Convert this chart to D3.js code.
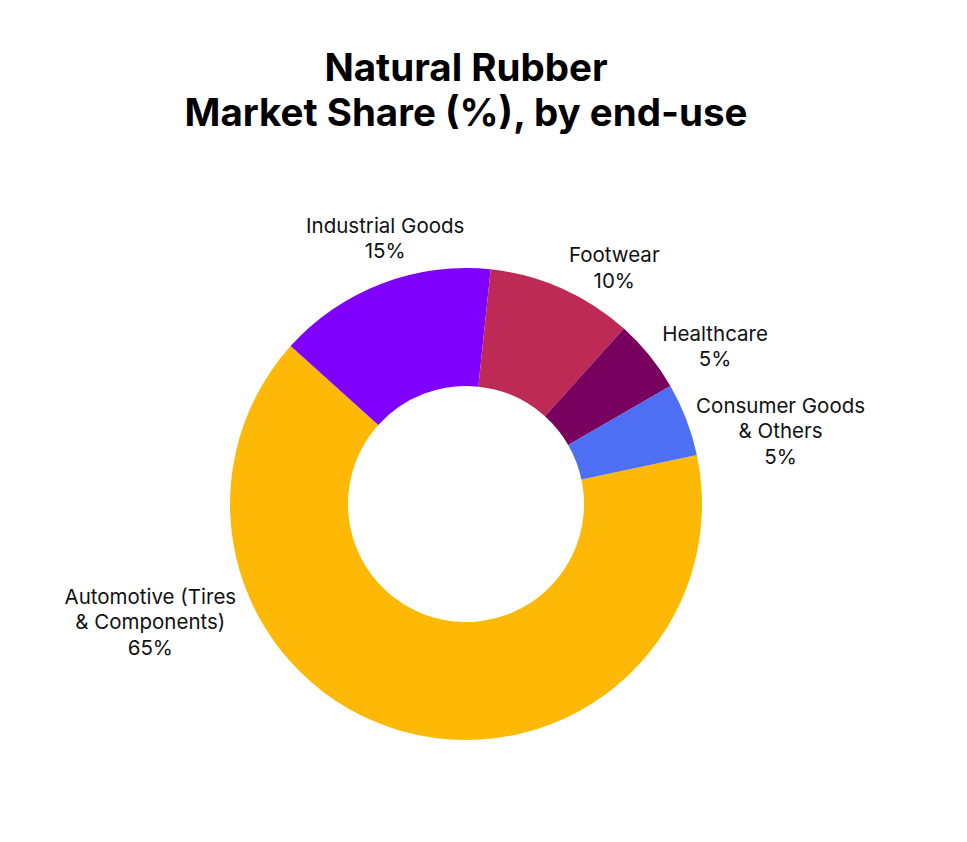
<!DOCTYPE html>
<meta charset="utf-8">
<script src="https://d3js.org/d3.v7.min.js"></script>
<style>
  body { margin: 0; background: #fff; }
  text { font-family: Inter, "Noto Sans", sans-serif; }
</style>
<div id="chart"></div>
<script>
  // data
  var segments = ["Automotive (Tires & Components)", "Industrial Goods", "Footwear", "Healthcare", "Consumer Goods & Others"];
  var shares = [65, 15, 10, 5, 5];
  var labelLines = [
    ["Automotive (Tires", "& Components)", "65%"],
    ["Industrial Goods", "15%"],
    ["Footwear", "10%"],
    ["Healthcare", "5%"],
    ["Consumer Goods", "& Others", "5%"]
  ];
  var colors = ["#FDB905", "#7F00FF", "#BE2A56", "#78005F", "#4E6EF3"];

  // label placement (polar, degrees clockwise from 12 o'clock, px from centre)
  var labelAngle = [-110.5, -16.9, 32.1, 57.6, 76.9];
  var labelDist = [337, 278, 279, 295, 323];

  var width = 967, height = 842;
  var cx = 466, cy = 504, R = 236, r0 = 118;
  var lineH = 25.5, capH = 14.8;

  var svg = d3.select("#chart").append("svg")
      .attr("width", width)
      .attr("height", height);

  // title
  svg.append("text")
      .attr("x", 466).attr("y", 81)
      .attr("text-anchor", "middle")
      .style("font-size", "38.5px").style("font-weight", "700")
      .text("Natural Rubber");
  svg.append("text")
      .attr("x", 466).attr("y", 126)
      .attr("text-anchor", "middle")
      .style("font-size", "38.5px").style("font-weight", "700")
      .text("Market Share (%), by end-use");

  var start = 78 * Math.PI / 180;
  var pie = d3.pie().sort(null).startAngle(start).endAngle(start + 2 * Math.PI);
  var arc = d3.arc().innerRadius(r0).outerRadius(R);

  var g = svg.append("g").attr("transform", "translate(" + cx + "," + cy + ")");

  g.selectAll("path")
      .data(pie(shares))
      .join("path")
      .attr("d", arc)
      .attr("fill", function(d, i) { return colors[i]; });

  // labels
  var labels = g.selectAll("text.lbl")
      .data(labelLines)
      .join("text")
      .attr("class", "lbl")
      .attr("text-anchor", "middle")
      .style("font-size", "20.5px")
      .attr("fill", "#111")
      .attr("transform", function(d, i) {
        var p = d3.pointRadial(labelAngle[i] * Math.PI / 180, labelDist[i]);
        var b1 = p[1] - ((d.length - 1) * lineH - capH) / 2;
        return "translate(" + p[0] + "," + b1 + ")";
      });

  labels.selectAll("tspan")
      .data(function(d) { return d; })
      .join("tspan")
      .attr("x", 0)
      .attr("y", function(d, j) { return j * lineH; })
      .text(function(d) { return d; });
</script>
